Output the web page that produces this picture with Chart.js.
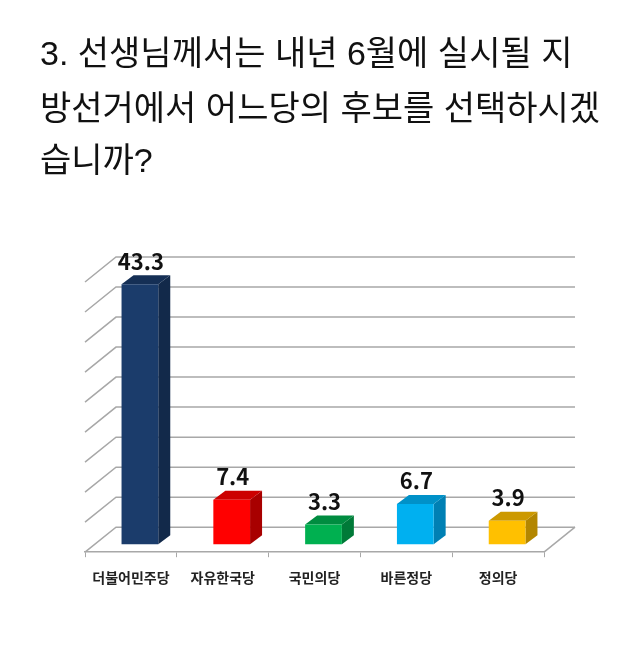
<!DOCTYPE html>
<html lang="ko">
<head>
<meta charset="utf-8">
<script src="https://cdn.jsdelivr.net/npm/chart.js@4"></script>
<style>
  html, body { margin: 0; padding: 0; background: #fff; }
  #wrap { position: relative; width: 640px; height: 651px; overflow: hidden; }
  #chart { position: absolute; left: 0; top: 0; }
  .titleLine {
    position: absolute; left: 40px; white-space: nowrap; color: #111;
    font: 34px/50px "Liberation Sans", "Noto Sans CJK KR", sans-serif;
  }
</style>
</head>
<body>
<div id="wrap">
  <canvas id="chart" width="640" height="651"></canvas>
  <div id="titleBox"></div>
</div>
<script>
const titleLines = ['3. 선생님께서는 내년 6월에 실시될 지', '방선거에서 어느당의 후보를 선택하시겠', '습니까?'];
const titleTops = [28, 83, 135];

const parties = ['더불어민주당', '자유한국당', '국민의당', '바른정당', '정의당'];
const support = [43.3, 7.4, 3.3, 6.7, 3.9];
const gridValues = [0, 5, 10, 15, 20, 25, 30, 35, 40, 45];

const frontColors = ['#1b3c6b', '#ff0000', '#00b050', '#00b0f0', '#ffc000'];
const sideColors = ['#12294a', '#a80000', '#007a38', '#0080b4', '#b38600'];
const topColors = ['#152f55', '#cc0000', '#008c40', '#0091c8', '#cc9900'];

// fake 3d offsets
const wallDx = 31, wallDy = -25;   // floor front edge -> back wall
const barDx = 9, barDy = -8;       // floor front edge -> bar front face
const depthDx = 12, depthDy = -9;  // bar front face -> bar back face

const gridColor = '#a8a8a8';

titleLines.forEach(function(line, i) {
    const el = document.createElement('div');
    el.className = 'titleLine';
    el.style.top = titleTops[i] + 'px';
    el.textContent = line;
    document.getElementById('titleBox').appendChild(el);
});

const fake3d = {
    id: 'fake3d',
    beforeDatasetsDraw(chart) {
        const ctx = chart.ctx;
        const area = chart.chartArea;
        const y = chart.scales.y;
        ctx.save();
        ctx.strokeStyle = gridColor;
        ctx.lineWidth = 1.5;
        gridValues.forEach(function(v) {
            const py = y.getPixelForValue(v);
            ctx.beginPath();
            ctx.moveTo(area.left, py);
            ctx.lineTo(area.left + wallDx, py + wallDy);
            ctx.lineTo(area.right + wallDx, py + wallDy);
            ctx.stroke();
        });
        // right edge of the floor
        ctx.beginPath();
        ctx.moveTo(area.right, area.bottom);
        ctx.lineTo(area.right + wallDx, area.bottom + wallDy);
        ctx.stroke();
        ctx.restore();
    },
    beforeDatasetDraw(chart) {
        const ctx = chart.ctx;
        ctx.save();
        ctx.translate(barDx, barDy);
        chart.getDatasetMeta(0).data.forEach(function(bar, i) {
            const l = bar.x - bar.width / 2;
            const r = bar.x + bar.width / 2;
            ctx.fillStyle = sideColors[i];
            ctx.beginPath();
            ctx.moveTo(r, bar.y);
            ctx.lineTo(r + depthDx, bar.y + depthDy);
            ctx.lineTo(r + depthDx, bar.base + depthDy);
            ctx.lineTo(r, bar.base);
            ctx.closePath();
            ctx.fill();
            ctx.fillStyle = topColors[i];
            ctx.beginPath();
            ctx.moveTo(l, bar.y);
            ctx.lineTo(l + depthDx, bar.y + depthDy);
            ctx.lineTo(r + depthDx, bar.y + depthDy);
            ctx.lineTo(r, bar.y);
            ctx.closePath();
            ctx.fill();
        });
    },
    afterDatasetDraw(chart) {
        chart.ctx.restore();
    },
    afterDatasetsDraw(chart) {
        const ctx = chart.ctx;
        ctx.save();
        ctx.fillStyle = '#111';
        ctx.font = 'bold 22px "Noto Sans CJK KR", sans-serif';
        ctx.textAlign = 'center';
        ctx.textBaseline = 'middle';
        chart.getDatasetMeta(0).data.forEach(function(bar, i) {
            ctx.fillText(support[i].toFixed(1), bar.x + barDx + 1, bar.y + barDy - 23);
        });
        ctx.restore();
    }
};

new Chart(document.getElementById('chart').getContext('2d'), {
    type: 'bar',
    data: {
        labels: parties,
        datasets: [{
            data: support,
            backgroundColor: frontColors,
            borderWidth: 0,
            barPercentage: 0.4,
            categoryPercentage: 1,
            clip: false
        }]
    },
    options: {
        responsive: false,
        animation: false,
        devicePixelRatio: 1,
        layout: { padding: { left: 85, right: 96, top: 282, bottom: 53 } },
        plugins: { legend: { display: false }, tooltip: { enabled: false }, title: { display: false } },
        scales: {
            x: {
                grid: { drawOnChartArea: false, drawTicks: true, tickLength: 5, color: gridColor },
                border: { display: true, color: gridColor, width: 1.5 },
                ticks: {
                    color: '#222',
                    padding: 12,
                    maxRotation: 0,
                    font: { family: '"Noto Sans CJK KR", sans-serif', size: 14, weight: 'bold' }
                }
            },
            y: {
                display: false,
                min: 0,
                max: 45,
                ticks: { stepSize: 5 }
            }
        }
    },
    plugins: [fake3d]
});
</script>
</body>
</html>
